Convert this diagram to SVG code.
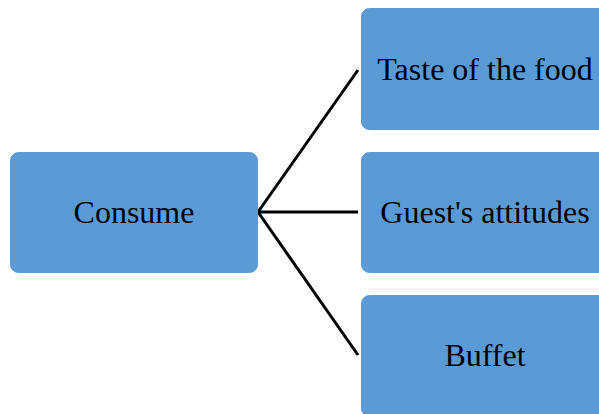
<svg xmlns="http://www.w3.org/2000/svg" width="599" height="414" viewBox="0 0 599 414">
<style>
.box{fill:#5B9BD5;stroke:#5B9BD5;stroke-width:1}
.lbl{font-family:"Liberation Serif","Times New Roman",serif;font-size:32px;fill:#000;text-anchor:middle}
.con{stroke:#000;stroke-width:3;fill:none}
</style>
<rect width="599" height="414" fill="#fff"/>
<g id="connectors">
<line class="con" x1="258" y1="212" x2="358" y2="70"/>
<line class="con" x1="258" y1="212" x2="358" y2="212"/>
<line class="con" x1="258" y1="212" x2="358" y2="355"/>
</g>
<g id="consume">
<rect class="box" x="10.5" y="152.5" width="247" height="120" rx="8"/>
<text class="lbl" x="134" y="223">Consume</text>
</g>
<g id="taste">
<rect class="box" x="361.5" y="8.5" width="247" height="121" rx="8"/>
<text class="lbl" x="485" y="80">Taste of the food</text>
</g>
<g id="guest">
<rect class="box" x="361.5" y="152.5" width="247" height="120" rx="8"/>
<text class="lbl" x="485" y="223">Guest's attitudes</text>
</g>
<g id="buffet">
<rect class="box" x="361.5" y="295.5" width="247" height="121" rx="8"/>
<text class="lbl" x="485" y="366">Buffet</text>
</g>
</svg>
